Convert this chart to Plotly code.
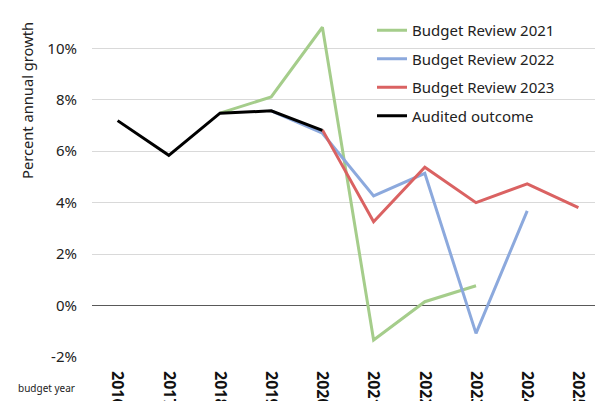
import plotly.graph_objects as go

years = ["2016", "2017", "2018", "2019", "2020", "2021", "2022", "2023", "2024", "2025"]

br2021_years = ["2018", "2019", "2020", "2021", "2022", "2023"]
br2021 = [7.48, 8.11, 10.82, -1.34, 0.15, 0.77]

br2022_years = ["2019", "2020", "2021", "2022", "2023", "2024"]
br2022 = [7.57, 6.70, 4.26, 5.14, -1.08, 3.68]

br2023_years = ["2020", "2021", "2022", "2023", "2024", "2025"]
br2023 = [6.83, 3.26, 5.38, 4.00, 4.73, 3.81]

audited_years = ["2016", "2017", "2018", "2019", "2020"]
audited = [7.19, 5.84, 7.48, 7.57, 6.81]

y_ticks = [-2, 0, 2, 4, 6, 8, 10]
y_tick_labels = ["-2%", "0%", "2%", "4%", "6%", "8%", "10%"]

FONT = "Noto Sans"

fig = go.Figure()
fig.add_trace(go.Scatter(x=br2021_years, y=br2021, mode="lines", name="Budget Review 2021",
                         legendgroup="a", line=dict(color="#A5CD8B", width=3)))
fig.add_trace(go.Scatter(x=br2022_years, y=br2022, mode="lines", name="Budget Review 2022",
                         legendgroup="b", line=dict(color="#8CA9DD", width=3)))
fig.add_trace(go.Scatter(x=br2023_years, y=br2023, mode="lines", name="Budget Review 2023",
                         legendgroup="c", line=dict(color="#DA6262", width=3)))
fig.add_trace(go.Scatter(x=audited_years, y=audited, mode="lines", name="Audited outcome",
                         legendgroup="d", line=dict(color="#000000", width=3)))

plot_l, plot_b = 92, 44
plot_w = 595 - plot_l
plot_h = 401 - plot_b

fig.update_layout(
    width=595, height=401,
    margin=dict(l=plot_l, r=0, t=0, b=plot_b, autoexpand=False),
    paper_bgcolor="white", plot_bgcolor="white",
    font=dict(family=FONT, size=15, color="#222222"),
    showlegend=True,
    legend=dict(x=(372 - plot_l) / plot_w, y=(357 - 14) / plot_h, xanchor="left", yanchor="top",
                bgcolor="rgba(0,0,0,0)", font=dict(size=15, color="#222222"),
                itemwidth=30, tracegroupgap=6),
    xaxis=dict(type="category", categoryorder="array", categoryarray=years,
               range=[-0.5, 9.324], showgrid=False, zeroline=False, showline=False,
               automargin=False,
               tickangle=90, tickfont=dict(size=16, color="#111111", family=FONT, weight="bold"),
               ticks="", ticklabelstandoff=13),
    yaxis=dict(range=[-2, 11.88], tickvals=y_ticks, ticktext=y_tick_labels,
               automargin=False,
               showgrid=True, gridcolor="#D9D9D9", gridwidth=1,
               zeroline=True, zerolinecolor="#595959", zerolinewidth=1.3,
               showline=False, ticks="", ticklabelstandoff=14,
               tickfont=dict(size=15, color="#222222")),
    annotations=[
        dict(text="Percent annual growth", textangle=-90,
             x=(27 - plot_l) / plot_w, y=(357 - 101) / plot_h,
             xref="paper", yref="paper", xanchor="center", yanchor="middle",
             showarrow=False, font=dict(size=14.7, color="#222222")),
        dict(text="budget year", x=(46 - plot_l) / plot_w, y=(357 - 388) / plot_h,
             xref="paper", yref="paper", xanchor="center", yanchor="middle",
             showarrow=False, font=dict(size=10, color="#222222")),
    ],
)

fig.write_html("out.html", config={"displayModeBar": False},
               post_script="document.body.style.margin='0px';")
